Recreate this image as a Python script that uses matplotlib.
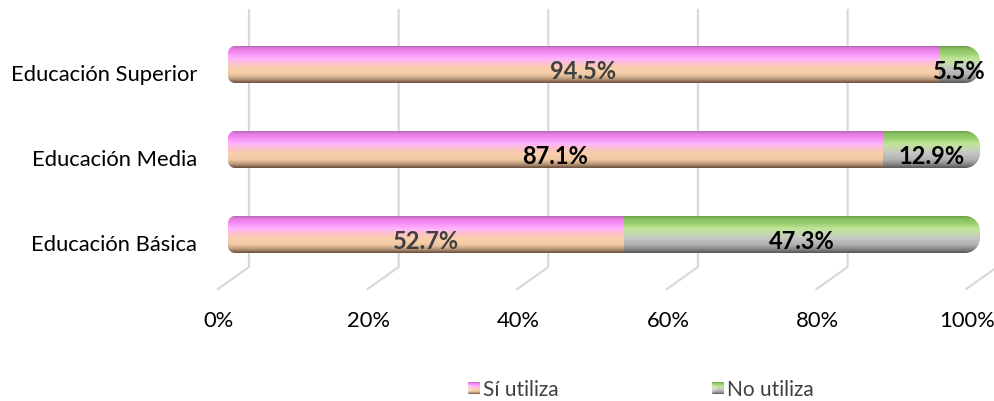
import numpy as np
import matplotlib
matplotlib.use('Agg')
import matplotlib.pyplot as plt
from matplotlib.patches import Polygon
from matplotlib.colors import to_rgba

# Datos del gráfico
categorias = ['Educación Básica', 'Educación Media', 'Educación Superior']
si_utiliza = [52.7, 87.1, 94.5]
no_utiliza = [47.3, 12.9, 5.5]
series = ['Sí utiliza', 'No utiliza']
ticks = [0, 20, 40, 60, 80, 100]

plt.rcParams['font.family'] = ['Lato', 'DejaVu Sans']

W, H = 994, 401
fig = plt.figure(figsize=(W / 100, H / 100), dpi=100)
ax = fig.add_axes([0, 0, 1, 1])
ax.axis('off')

# escala: 0% -> x=228 px, 100% -> x=980 px ; filas cada 85 px
sx = 7.52
sy = 85.0
x0_px = 228
y0_px = H - 234.5  # centro de la fila 0 (desde abajo)


def dx(px):
    return px / sx


def dy(px):
    return px / sy


xmin, xmax = -x0_px / sx, (W - x0_px) / sx
ymin, ymax = -y0_px / sy, (H - y0_px) / sy

# gradientes verticales (arriba -> abajo)
grad_si = [(0.00, '#b868b8'), (0.07, '#e47ce4'), (0.18, '#f48cf4'), (0.34, '#ffb4ff'),
           (0.48, '#fcc2c8'), (0.62, '#f8d0aa'), (0.78, '#f0c8a4'), (0.90, '#b89878'),
           (1.00, '#6e5040')]
grad_no = [(0.00, '#70a048'), (0.07, '#88c060'), (0.18, '#96cc6c'), (0.34, '#c0e698'),
           (0.48, '#c4d8b0'), (0.62, '#c4c4c4'), (0.78, '#b0b0b0'), (0.90, '#888888'),
           (1.00, '#585858')]


def gradiente(stops, n=64):
    t = np.linspace(0, 1, n)
    pos = [s[0] for s in stops]
    cols = np.array([to_rgba(s[1]) for s in stops])
    out = np.zeros((n, 1, 4))
    for c in range(4):
        out[:, 0, c] = np.interp(t, pos, cols[:, c])
    return out


def contorno(x1, x2, yc, h_px, rl_px, rr_px, n=16):
    """Polígono de barra con extremos redondeados (radios en px)."""
    hy = dy(h_px) / 2
    pts = []
    # extremo derecho: de arriba hacia abajo
    for a in np.linspace(np.pi / 2, 0, n):
        pts.append((x2 - dx(rr_px) + dx(rr_px) * np.cos(a), yc + hy - dy(rr_px) + dy(rr_px) * np.sin(a)))
    for a in np.linspace(0, -np.pi / 2, n):
        pts.append((x2 - dx(rr_px) + dx(rr_px) * np.cos(a), yc - hy + dy(rr_px) + dy(rr_px) * np.sin(a)))
    # extremo izquierdo: de abajo hacia arriba
    for a in np.linspace(-np.pi / 2, -np.pi, n):
        pts.append((x1 + dx(rl_px) + dx(rl_px) * np.cos(a), yc - hy + dy(rl_px) + dy(rl_px) * np.sin(a)))
    for a in np.linspace(np.pi, np.pi / 2, n):
        pts.append((x1 + dx(rl_px) + dx(rl_px) * np.cos(a), yc + hy - dy(rl_px) + dy(rl_px) * np.sin(a)))
    return pts


img_si = gradiente(grad_si)
img_no = gradiente(grad_no)

grid_col = '#d9d9d9'
g_scale = 0.995
back_off = dx(21)
front_off = dx(-10)
y_top = dy(H - 10 - y0_px)
y_back = dy(H - 267 - y0_px)
y_front = dy(H - 289 - y0_px)

# líneas de cuadrícula (pared trasera + suelo)
for t in ticks:
    xb = t * g_scale + back_off
    xf = t * g_scale + front_off
    ax.plot([xb, xb, xf], [y_top, y_back, y_front], color=grid_col, lw=1.6,
            solid_joinstyle='miter', zorder=1)
    ax.text(t * g_scale + dx(-9), dy(H - 327 - y0_px), f'{t}%', ha='center',
            va='baseline', fontsize=15.8, color='#000000')

bar_px = 37

for i, cat in enumerate(categorias):
    y = i
    total = si_utiliza[i] + no_utiliza[i]
    bar_h = dy(bar_px)
    caja = Polygon(contorno(0, total, y, bar_px, 7, 15), closed=True,
                   facecolor='none', edgecolor='none', zorder=3)
    ax.add_patch(caja)
    im1 = ax.imshow(img_si, extent=[0, si_utiliza[i], y - bar_h / 2, y + bar_h / 2],
                    aspect='auto', interpolation='bilinear', zorder=2)
    im1.set_clip_path(caja)
    im2 = ax.imshow(img_no, extent=[si_utiliza[i], total, y - bar_h / 2, y + bar_h / 2],
                    aspect='auto', interpolation='bilinear', zorder=2)
    im2.set_clip_path(caja)

    ax.text(dx(197 - x0_px), y - dy(16.5), cat, ha='right', va='baseline',
            fontsize=15.8, color='#000000')

    # etiquetas de valores
    col_si = '#404040' if i != 1 else '#000000'
    ax.text(si_utiliza[i] / 2, y - dy(7), f'{si_utiliza[i]:.1f}%', ha='center',
            va='center', fontsize=17, fontweight='bold', color=col_si, zorder=5)
    ax.text(si_utiliza[i] + no_utiliza[i] / 2, y - dy(7), f'{no_utiliza[i]:.1f}%',
            ha='center', va='center', fontsize=17, fontweight='bold',
            color='#000000', zorder=5)

# leyenda
ley_y = dy(H - 388.5 - y0_px)
sq_w, sq_h = dx(12), dy(12)
for img, name, px in [(img_si, series[0], 468), (img_no, series[1], 712)]:
    xl = dx(px - x0_px)
    ax.imshow(img, extent=[xl, xl + sq_w, ley_y - sq_h / 2, ley_y + sq_h / 2],
              aspect='auto', interpolation='bilinear', zorder=2)
    ax.add_patch(Polygon([[xl, ley_y + sq_h / 2], [xl + sq_w / 2, ley_y],
                          [xl, ley_y - sq_h / 2]], closed=True,
                         facecolor='white', alpha=0.25, edgecolor='none', zorder=3))
    ax.text(xl + sq_w + dx(3), ley_y - dy(7.5), name, ha='left', va='baseline',
            fontsize=15, color='#404040')

ax.set_xlim(xmin, xmax)
ax.set_ylim(ymin, ymax)

plt.savefig('out.png', dpi=100)
plt.close()
